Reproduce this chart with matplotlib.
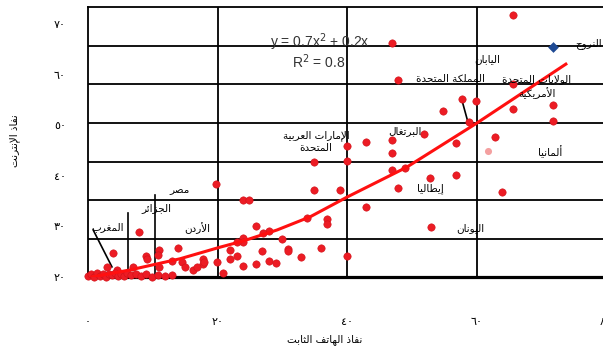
import matplotlib.pyplot as plt

# Arabic shaping (matplotlib draws letters unjoined and left to right otherwise)
FORMS = {
    "ا": ("\uFE8D", "\uFE8E", None, None),
    "أ": ("\uFE83", "\uFE84", None, None),
    "إ": ("\uFE87", "\uFE88", None, None),
    "ب": ("\uFE8F", "\uFE90", "\uFE91", "\uFE92"),
    "ة": ("\uFE93", "\uFE94", None, None),
    "ت": ("\uFE95", "\uFE96", "\uFE97", "\uFE98"),
    "ث": ("\uFE99", "\uFE9A", "\uFE9B", "\uFE9C"),
    "ج": ("\uFE9D", "\uFE9E", "\uFE9F", "\uFEA0"),
    "ح": ("\uFEA1", "\uFEA2", "\uFEA3", "\uFEA4"),
    "د": ("\uFEA9", "\uFEAA", None, None),
    "ذ": ("\uFEAB", "\uFEAC", None, None),
    "ر": ("\uFEAD", "\uFEAE", None, None),
    "ز": ("\uFEAF", "\uFEB0", None, None),
    "ص": ("\uFEB9", "\uFEBA", "\uFEBB", "\uFEBC"),
    "ط": ("\uFEC1", "\uFEC2", "\uFEC3", "\uFEC4"),
    "ع": ("\uFEC9", "\uFECA", "\uFECB", "\uFECC"),
    "غ": ("\uFECD", "\uFECE", "\uFECF", "\uFED0"),
    "ف": ("\uFED1", "\uFED2", "\uFED3", "\uFED4"),
    "ك": ("\uFED9", "\uFEDA", "\uFEDB", "\uFEDC"),
    "ل": ("\uFEDD", "\uFEDE", "\uFEDF", "\uFEE0"),
    "م": ("\uFEE1", "\uFEE2", "\uFEE3", "\uFEE4"),
    "ن": ("\uFEE5", "\uFEE6", "\uFEE7", "\uFEE8"),
    "ه": ("\uFEE9", "\uFEEA", "\uFEEB", "\uFEEC"),
    "و": ("\uFEED", "\uFEEE", None, None),
    "ي": ("\uFEF1", "\uFEF2", "\uFEF3", "\uFEF4"),
    "ئ": ("\uFE89", "\uFE8A", "\uFE8B", "\uFE8C"),
}
LAM_ALEF = {"ا": ("\uFEFB", "\uFEFC"), "أ": ("\uFEF7", "\uFEF8"), "إ": ("\uFEF9", "\uFEFA")}


def shape_line(text):
    out = []
    i = 0
    while i < len(text):
        c = text[i]
        if c not in FORMS:
            out.append(c)
            i += 1
            continue
        prev = text[i - 1] if i > 0 else ""
        p = prev in FORMS and FORMS[prev][2] is not None
        if c == "ل" and i + 1 < len(text) and text[i + 1] in LAM_ALEF:
            iso, fin = LAM_ALEF[text[i + 1]]
            out.append(fin if p else iso)
            i += 2
            continue
        iso, fin, ini, med = FORMS[c]
        nx = ini is not None and i + 1 < len(text) and text[i + 1] in FORMS
        if p and nx:
            out.append(med)
        elif p:
            out.append(fin)
        elif nx:
            out.append(ini)
        else:
            out.append(iso)
        i += 1
    return "".join(reversed(out))


def ar(text):
    return "\n".join(shape_line(t) for t in text.split("\n"))


# data
x_pts = [65.7, 46.9, 47.8, 65.7, 57.7, 59.9, 54.8, 58.8, 65.7, 71.8, 71.8, 51.9, 62.8,
         56.8, 42.9, 46.9, 46.9, 40.0, 40.0, 34.9, 46.9, 48.9, 56.8, 52.8, 47.8, 63.9,
         42.9, 52.9, 38.9, 34.9, 19.8, 23.9, 24.8, 33.8, 36.9, 36.9, 25.9, 27.9, 27.0,
         29.9, 23.9, 23.9, 23.0, 30.9, 30.9, 36.0, 26.9, 21.9, 23.0, 21.9, 32.9, 40.0,
         19.9, 17.7, 17.7, 23.9, 25.9, 27.9, 29.0, 20.8,
         7.9, 3.9, 9.0, 9.1, 11.0, 10.8, 13.9, 13.0, 14.5, 15.0, 16.2, 6.9, 2.9, 4.5,
         11.0, 16.8, 17.9,
         0.0, 0.5, 0.9, 1.4, 1.9, 2.3, 2.8, 3.2, 3.7, 4.2, 4.6, 5.1, 5.6, 6.0, 6.6,
         7.4, 8.2, 8.9, 9.9, 10.8, 11.9, 13.0]
y_pts = [71.8, 66.2, 58.9, 58.1, 55.2, 54.8, 52.8, 50.6, 53.2, 54.0, 50.8, 48.3, 47.7,
         46.5, 46.7, 47.1, 44.5, 45.9, 42.9, 42.7, 41.1, 41.5, 40.2, 39.6, 37.6, 36.8,
         33.8, 29.9, 37.2, 37.2, 38.4, 35.2, 35.2, 31.7, 31.5, 30.5, 30.1, 29.1, 28.7,
         27.5, 27.7, 26.9, 26.9, 25.5, 25.1, 25.7, 25.1, 25.3, 24.2, 23.6, 24.0, 24.2,
         23.0, 23.6, 22.6, 22.2, 22.6, 23.2, 22.8, 20.8,
         28.9, 24.7, 24.2, 23.6, 25.3, 24.3, 25.7, 23.2, 23.0, 22.0, 21.4, 22.0, 22.0, 21.4,
         22.0, 22.0, 23.0,
         20.2, 20.6, 20.0, 20.7, 20.2, 20.5, 20.0, 20.6, 20.3, 20.8, 20.1, 20.5, 20.2, 20.7,
         20.3, 20.6, 20.2, 20.5, 20.0, 20.4, 20.1, 20.3]
norway = (71.8, 65.5)
germany_pt = (61.7, 44.9)

trend_x = [0.6, 6.5, 14.2, 20.4, 23.9, 29.2, 34.3, 40.0, 49.2, 60.0, 73.8]
trend_y = [20.0, 21.4, 23.6, 25.9, 27.1, 29.3, 31.9, 35.8, 41.7, 50.4, 62.1]

x_ticks = [0, 20, 40, 60, 80]
x_tick_labels = ["٠", "٢٠", "٤٠", "٦٠", "٨٠"]
y_ticks = [20, 30, 40, 50, 60, 70]
y_tick_labels = ["٢٠", "٣٠", "٤٠", "٥٠", "٦٠", "٧٠"]
grid_y = [27.5, 35.2, 42.7, 50.4, 58.1, 65.6]
grid_x = [20, 40, 60]

countries = ["النروج", "اليابان", "المملكة المتحدة", "الولايات المتحدة\nالأمريكية", "ألمانيا",
             "البرتغال", "الإمارات العربية\nالمتحدة", "إيطاليا", "اليونان", "مصر", "الجزائر",
             "الأردن", "المغرب"]
label_x = [75.2, 61.6, 55.9, 69.3, 71.3, 48.9, 35.2, 52.8, 59.1, 14.2, 10.5, 16.8, 3.1]
label_y = [66.2, 63.1, 59.1, 57.7, 44.7, 48.9, 46.7, 37.4, 29.7, 37.2, 33.6, 29.7, 29.9]

leaders = [((57.7, 58.6), (55.2, 51.0)), ((0.8, 3.7), (29.3, 22.0)),
           ((6.2, 6.2), (32.6, 20.0)), ((10.3, 10.3), (36.2, 20.0))]

fig = plt.figure(figsize=(6.03, 3.5), dpi=100)
ax = fig.add_axes([88 / 603, 73 / 350, 518 / 603, 270 / 350])
ax.set_xlim(0, 80)
ax.set_ylim(20, 73.4)

for gy in grid_y:
    ax.axhline(gy, color="black", lw=1.3, zorder=1)
for gx in grid_x:
    ax.axvline(gx, color="black", lw=1.3, zorder=1)
for s in ["left", "top"]:
    ax.spines[s].set_linewidth(1.3)
ax.spines["bottom"].set_linewidth(2.3)
ax.spines["right"].set_visible(False)

for (lx, ly) in leaders:
    ax.plot(lx, ly, color="black", lw=1.2, zorder=2)

ax.scatter(x_pts, y_pts, s=28, color="#ec1c24", edgecolors="#d01018", linewidths=0.4,
           zorder=3, clip_on=False)
ax.scatter([germany_pt[0]], [germany_pt[1]], s=26, color="#f4a0a0", zorder=3, linewidths=0)
ax.scatter([norway[0]], [norway[1]], s=30, marker="D", color="#1f4a94", zorder=3, linewidths=0)
ax.plot(trend_x, trend_y, color="#ff1010", lw=2.2, zorder=4)

for name, lx, ly in zip(countries, label_x, label_y):
    ha = "left" if name == "النروج" else "center"
    ax.text(lx, ly, ar(name), fontsize=7.5, ha=ha, va="center", linespacing=1.3,
            family="DejaVu Sans", zorder=5, clip_on=True)

ax.text(35.8, 66.4, "y = 0.7x$^{2}$ + 0.2x", fontsize=10, ha="center", va="center",
        family="Liberation Sans", color="#333333", zorder=5)
ax.text(35.6, 62.5, "R$^{2}$ = 0.8", fontsize=10, ha="center", va="center",
        family="Liberation Sans", color="#333333", zorder=5)

ax.set_xticks(x_ticks)
ax.set_xticklabels(x_tick_labels, fontsize=8)
ax.set_yticks(y_ticks)
ax.set_yticklabels(y_tick_labels, fontsize=8)
ax.tick_params(axis="x", length=0, pad=29)
ax.tick_params(axis="y", length=0, pad=16)

fig.text(325 / 603, 1 - 340 / 350, ar("نفاذ الهاتف الثابت"), fontsize=7.5,
         ha="center", va="center")
fig.text(15 / 603, 1 - 141 / 350, ar("نفاذ الإنترنت"), fontsize=7.5,
         ha="center", va="center", rotation=90)

fig.savefig("out.png", dpi=100)
